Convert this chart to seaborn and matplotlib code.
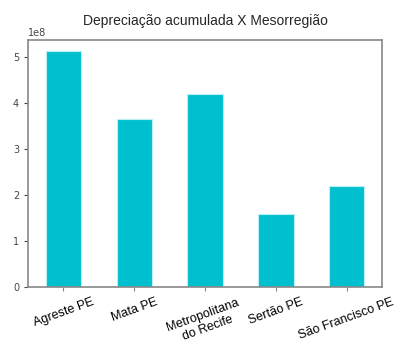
import matplotlib
matplotlib.use('Agg')
import matplotlib.pyplot as plt
import seaborn as sns
import pandas as pd

# Data
regioes = ['Agreste PE', 'Mata PE', 'Metropolitana\ndo Recife', 'Sertão PE', 'São Francisco PE']
depreciacao = [5.13e8, 3.65e8, 4.20e8, 1.59e8, 2.20e8]

df = pd.DataFrame({'Mesorregiao': regioes, 'Depreciacao': depreciacao})

sns.set_style('white')
plt.rcParams['font.family'] = ['DejaVu Sans']

fig = plt.figure(figsize=(4.13, 3.59), dpi=100)
ax = fig.add_axes([0.068, 0.2, 0.857, 0.689])

sns.barplot(data=df, x='Mesorregiao', y='Depreciacao', color='#00bfce',
            saturation=1, width=0.5, edgecolor='#b8f0f4', linewidth=0.8, ax=ax)

ax.set_ylim(0, 5.37e8)
ax.set_xlim(-0.5, 4.5)
ax.set_xlabel('')
ax.set_ylabel('')
ax.set_title('Depreciação acumulada X Mesorregião', fontsize=10,
             family='Liberation Sans', pad=11)

for s in ax.spines.values():
    s.set_color('#888888')
    s.set_linewidth(1.2)

ax.tick_params(axis='y', labelsize=7, colors='#444444', length=3, left=True)
ax.tick_params(axis='x', length=3, bottom=True, colors='#888888')
for lbl in ax.get_xticklabels():
    lbl.set_rotation(20)
    lbl.set_fontsize(9)
    lbl.set_family('Liberation Sans')
    lbl.set_color('black')
ax.yaxis.get_offset_text().set_fontsize(7)
ax.yaxis.get_offset_text().set_color('#444444')

fig.savefig('out.png', dpi=100)
plt.close()
